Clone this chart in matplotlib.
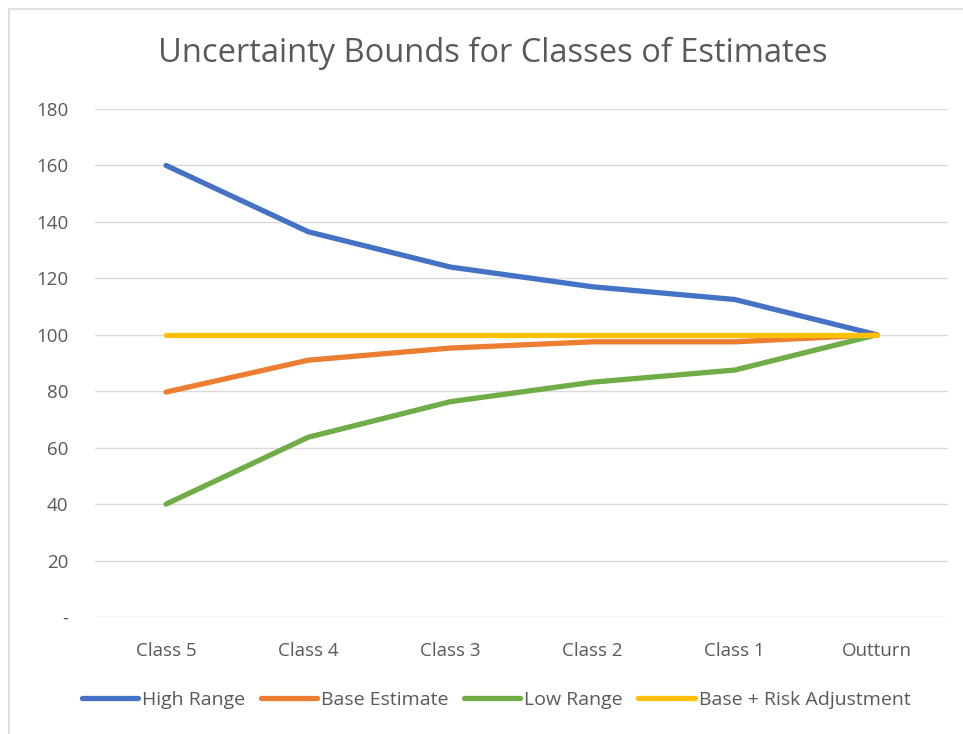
import matplotlib
matplotlib.use("Agg")
import matplotlib.pyplot as plt
from matplotlib.patches import Rectangle

categories = ["Class 5", "Class 4", "Class 3", "Class 2", "Class 1", "Outturn"]
high_range = [160, 136.5, 124, 117, 112.5, 100]
base_estimate = [79.7, 91, 95.3, 97.5, 97.5, 100]
low_range = [40, 63.7, 76.3, 83.2, 87.5, 100]
base_risk = [100, 100, 100, 100, 100, 100]
y_ticks = [0, 20, 40, 60, 80, 100, 120, 140, 160, 180]
y_labels = ["-", "20", "40", "60", "80", "100", "120", "140", "160", "180"]

W, H = 963, 734
fig = plt.figure(figsize=(W / 100, H / 100), dpi=100)
fig.patch.set_facecolor("white")
plt.rcParams['font.family'] = ['Open Sans', 'DejaVu Sans']

# chart border
fig.patches.append(Rectangle((9 / W, -0.01), 1.2, (H - 9) / H + 0.01, transform=fig.transFigure,
                             fill=False, edgecolor="#d9d9d9", linewidth=1.2))

ax = fig.add_axes([95 / W, (H - 617) / H, (948 - 95) / W, (617 - 109) / H])
x = list(range(len(categories)))
series = [
    ("High Range", high_range, "#4472C4"),
    ("Base Estimate", base_estimate, "#ED7D31"),
    ("Low Range", low_range, "#70AD47"),
    ("Base + Risk Adjustment", base_risk, "#FFC000"),
]
for name, vals, col in series:
    ax.plot(x, vals, color=col, linewidth=3.8, label=name, solid_capstyle="round", solid_joinstyle="round")

ax.set_xlim(-0.5, len(categories) - 0.5)
ax.set_ylim(0, 180)
ax.set_yticks(y_ticks)
ax.set_yticklabels(y_labels)
ax.set_xticks(x)
ax.set_xticklabels(categories)
ax.grid(axis="y", color="#d9d9d9", linewidth=1.0)
ax.set_axisbelow(True)
for s in ax.spines.values():
    s.set_visible(False)
ax.tick_params(axis="both", length=0, colors="#595959", labelsize=13.5)
ax.tick_params(axis="y", pad=19)
ax.tick_params(axis="x", pad=18)

fig.text(493 / W, 1 - 53 / H, "Uncertainty Bounds for Classes of Estimates", ha="center", va="center",
         fontsize=23.5, color="#595959")

leg = fig.legend(loc="center", bbox_to_anchor=(496 / W, 1 - 700 / H), ncol=4, frameon=False,
                 fontsize=14, handlelength=2.9, handletextpad=0.2, columnspacing=0.8,
                 labelcolor="#595959")

fig.savefig("out.png", dpi=100, facecolor="white")
